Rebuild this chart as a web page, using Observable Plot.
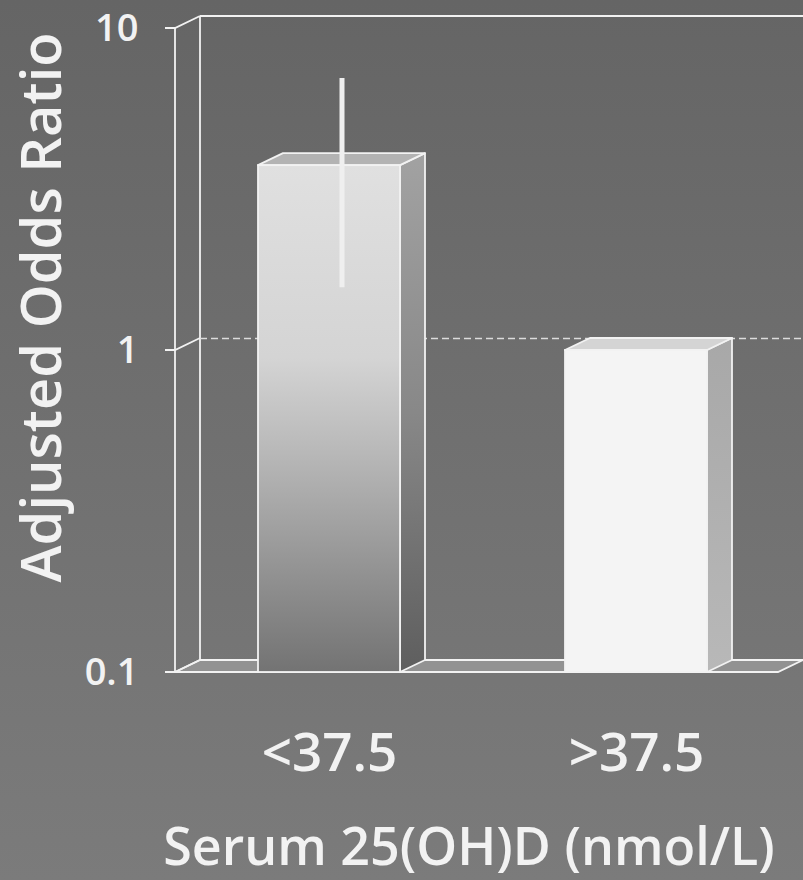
<!DOCTYPE html>
<html>
<head>
<meta charset="utf-8">
<script src="https://cdn.jsdelivr.net/npm/d3@7"></script>
<script src="https://cdn.jsdelivr.net/npm/@observablehq/plot@0.6"></script>
<style>
  html, body { margin: 0; padding: 0; background: #6f6f6f; }
  #chart svg { display: block; }
</style>
</head>
<body>
<div id="chart"></div>
<script>
// ---------------- data ----------------
const categories = ["<37.5", ">37.5"];
const oddsRatios = [3.75, 1.0];
const ciLower = [1.5, null];
const ciUpper = [6.7, null];
const yTicks = [0.1, 1, 10];
const yTickLabels = ["0.1", "1", "10"];
const yTitle = "Adjusted Odds Ratio";
const xTitle = "Serum 25(OH)D (nmol/L)";

// ---------------- style ----------------
const DX = 25, DY = -12;             // depth offset of the 3D box
const edge = "#f2f2f2";
const textColor = "#f2f2f2";
const font = "'Open Sans', 'DejaVu Sans', sans-serif";
const frontFills = ["url(#front0)", "#f4f4f4"];
const sideFills = ["url(#side0)", "url(#side1)"];
const topFills = ["#b3b3b3", "#d4d4d4"];
const floorFill = "#929292";

const bars = categories.map((cat, i) => ({cat, or: oddsRatios[i], lo: ciLower[i], hi: ciUpper[i]}));
const yMin = d3.min(yTicks), yMax = d3.max(yTicks);

// gradient definitions
const defsMark = () => {
  const defs = d3.create("svg:defs");
  const grad = (id, stops) => {
    const g = defs.append("linearGradient").attr("id", id)
      .attr("x1", 0).attr("y1", 0).attr("x2", 0).attr("y2", 1);
    for (const [o, c] of stops) g.append("stop").attr("offset", o).attr("stop-color", c);
  };
  grad("front0", [[0, "#e0e0e0"], [0.38, "#d4d4d4"], [0.58, "#b6b6b6"], [0.78, "#969696"], [1, "#737373"]]);
  grad("side0", [[0, "#a2a2a2"], [0.5, "#888888"], [1, "#5e5e5e"]]);
  grad("side1", [[0, "#a8a8a8"], [1, "#b8b8b8"]]);
  return defs.node();
};

// floor, side wall, back wall outlines and ticks
const wallsMark = (index, scales, values, dims) => {
  const y = scales.y;
  const L = dims.marginLeft, R = dims.width - dims.marginRight;
  const yb = y(yMin), yt = y(yMax);
  const g = d3.create("svg:g").attr("fill", "none").attr("stroke", edge).attr("stroke-width", 1.8);
  g.append("path")
    .attr("d", `M${L},${yb}L${R},${yb}L${R + DX},${yb + DY}L${L + DX},${yb + DY}Z`)
    .attr("fill", floorFill);
  g.append("line").attr("x1", L).attr("x2", L).attr("y1", yt).attr("y2", yb);
  g.append("line").attr("x1", L + DX).attr("x2", L + DX).attr("y1", yt + DY).attr("y2", yb + DY);
  g.append("line").attr("x1", L + DX).attr("x2", R + DX).attr("y1", yt + DY).attr("y2", yt + DY);
  for (const t of yTicks) {
    const yy = y(t);
    g.append("path").attr("d", `M${L - 10},${yy}L${L},${yy}L${L + DX},${yy + DY}`);
  }
  return g.node();
};

// side and top faces of each bar
const barFacesMark = (index, scales) => {
  const {x, y} = scales;
  const bw = x.bandwidth();
  const yb = y(yMin);
  const g = d3.create("svg:g").attr("stroke", edge).attr("stroke-width", 1.8).attr("stroke-linejoin", "round");
  bars.forEach((b, i) => {
    const x0 = x(b.cat), x1 = x0 + bw, yt = y(b.or);
    g.append("path")
      .attr("d", `M${x1},${yt}L${x1 + DX},${yt + DY}L${x1 + DX},${yb + DY}L${x1},${yb}Z`)
      .attr("fill", sideFills[i]);
    g.append("path")
      .attr("d", `M${x0},${yt}L${x1},${yt}L${x1 + DX},${yt + DY}L${x0 + DX},${yt + DY}Z`)
      .attr("fill", topFills[i]);
  });
  return g.node();
};

const plot = Plot.plot({
  width: 803,
  height: 880,
  marginLeft: 175,
  marginRight: 25,
  marginTop: 28,
  marginBottom: 208,
  style: {background: "linear-gradient(#656565, #7b7b7b)", fontFamily: font, color: textColor},
  x: {type: "band", domain: categories, range: [175, 790], paddingInner: 0.537, paddingOuter: 0.27, axis: null},
  y: {type: "log", domain: [yMin, yMax], axis: null},
  marks: [
    defsMark,
    wallsMark,
    Plot.ruleY([1], {dx: DX, dy: DY, stroke: "#dcdcdc", strokeWidth: 1.6, strokeDasharray: "7,4"}),
    barFacesMark,
    ...bars.map((b, i) => Plot.barY([b], {x: "cat", y1: yMin, y2: "or", fill: frontFills[i], stroke: edge, strokeWidth: 1.8})),
    Plot.ruleX(bars.filter(d => d.lo != null), {x: "cat", y1: "lo", y2: "hi", dx: DX / 2, dy: DY / 2, stroke: "#efefef", strokeWidth: 5}),
    Plot.text(yTicks, {y: d => d, text: (d, i) => yTickLabels[i], frameAnchor: "left", dx: -37, textAnchor: "end",
      fontSize: 38, fontWeight: 600, fill: textColor}),
    Plot.text(bars, {x: "cat", text: "cat", frameAnchor: "bottom", dy: 98, fontSize: 53, fontWeight: 600, fill: textColor}),
    Plot.text([yTitle], {text: d => d, frameAnchor: "left", textAnchor: "middle", dx: -132, dy: -43, rotate: -90,
      fontSize: 56, fontWeight: 600, fill: textColor}),
    Plot.text([xTitle], {text: d => d, frameAnchor: "bottom", textAnchor: "middle", dx: -8, dy: 192, fontSize: 52, fontWeight: 600, fill: textColor})
  ]
});
document.getElementById("chart").appendChild(plot);
</script>
</body>
</html>
